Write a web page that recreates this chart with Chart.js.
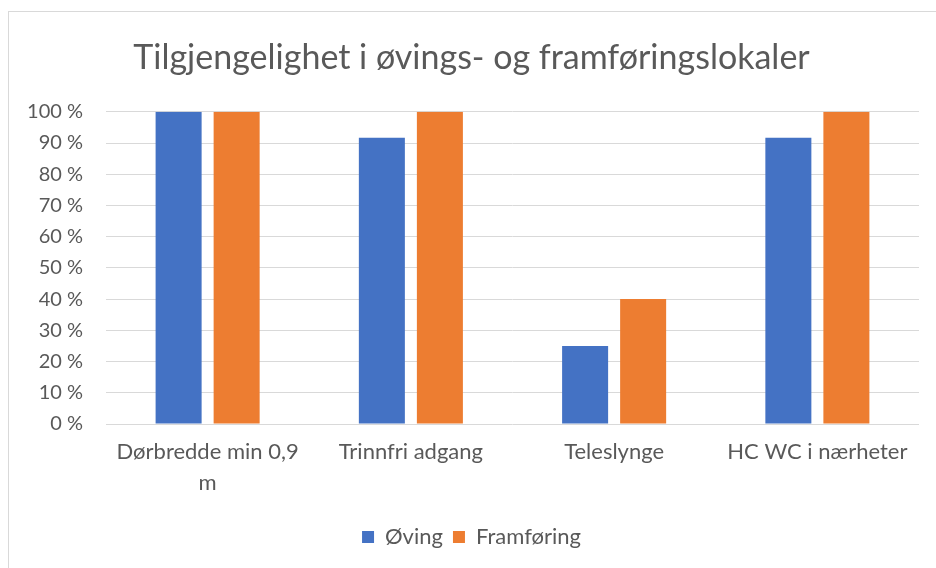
<!DOCTYPE html>
<html><head><meta charset="utf-8">
<script src="https://cdn.jsdelivr.net/npm/chart.js@4/dist/chart.umd.min.js"></script>
<style>
html,body{margin:0;padding:0;background:#fff;overflow:hidden;width:936px;height:568px;}
#wrap{position:absolute;left:8px;top:11px;width:940px;height:580px;border-left:1px solid #d9d9d9;border-top:1px solid #d9d9d9;}
canvas{display:block;}
</style></head><body>
<div id="wrap"><canvas id="c" width="940" height="557"></canvas></div>
<script>
const categories = [["Dørbredde min 0,9","m"], "Trinnfri adgang", "Teleslynge", "HC WC i nærheter"];
const seriesNames = ["Øving", "Framføring"];
const oving = [100, 91.7, 25, 91.7];
const framforing = [100, 100, 40, 100];
const yTicks = [0,10,20,30,40,50,60,70,80,90,100];
const titleText = "Tilgjengelighet i øvings- og framføringslokaler";

const FONT = "Lato, 'Liberation Sans', sans-serif";
const GREY = "#595959";
new Chart(document.getElementById('c'), {
  type: 'bar',
  data: {
    labels: categories,
    datasets: [
      {label: seriesNames[0], data: oving, backgroundColor: '#4472C4', categoryPercentage: 0.571, barPercentage: 0.793},
      {label: seriesNames[1], data: framforing, backgroundColor: '#ED7D31', categoryPercentage: 0.571, barPercentage: 0.793}
    ]
  },
  options: {
    responsive: false,
    animation: false,
    layout: {padding: {left: 15, right: 30, top: 0, bottom: 11}},
    plugins: {
      title: {display: true, text: titleText, color: GREY, font: {family: FONT, size: 34, weight: 'normal'}, padding: {top: 26, bottom: 33}},
      legend: {position: 'bottom', labels: {color: GREY, font: {family: FONT, size: 22}, boxWidth: 12, boxHeight: 12, padding: 10}},
      tooltip: {enabled: false}
    },
    scales: {
      x: {
        grid: {display: false, drawTicks: false},
        border: {display: false},
        ticks: {color: GREY, font: {family: FONT, size: 22, lineHeight: 1.4}, padding: 13, maxRotation: 0, autoSkip: false},
        afterFit: s => { s.height = 92; }
      },
      y: {
        min: 0, max: 100,
        afterBuildTicks: s => { s.ticks = yTicks.map(v => ({value: v})); },
        grid: {color: '#d9d9d9', lineWidth: 1, drawTicks: false},
        border: {display: false},
        ticks: {color: GREY, font: {family: FONT, size: 20}, padding: 23, callback: v => v + ' %'},
        afterFit: s => { s.width = 82; }
      }
    }
  }
});
</script>
</body></html>
